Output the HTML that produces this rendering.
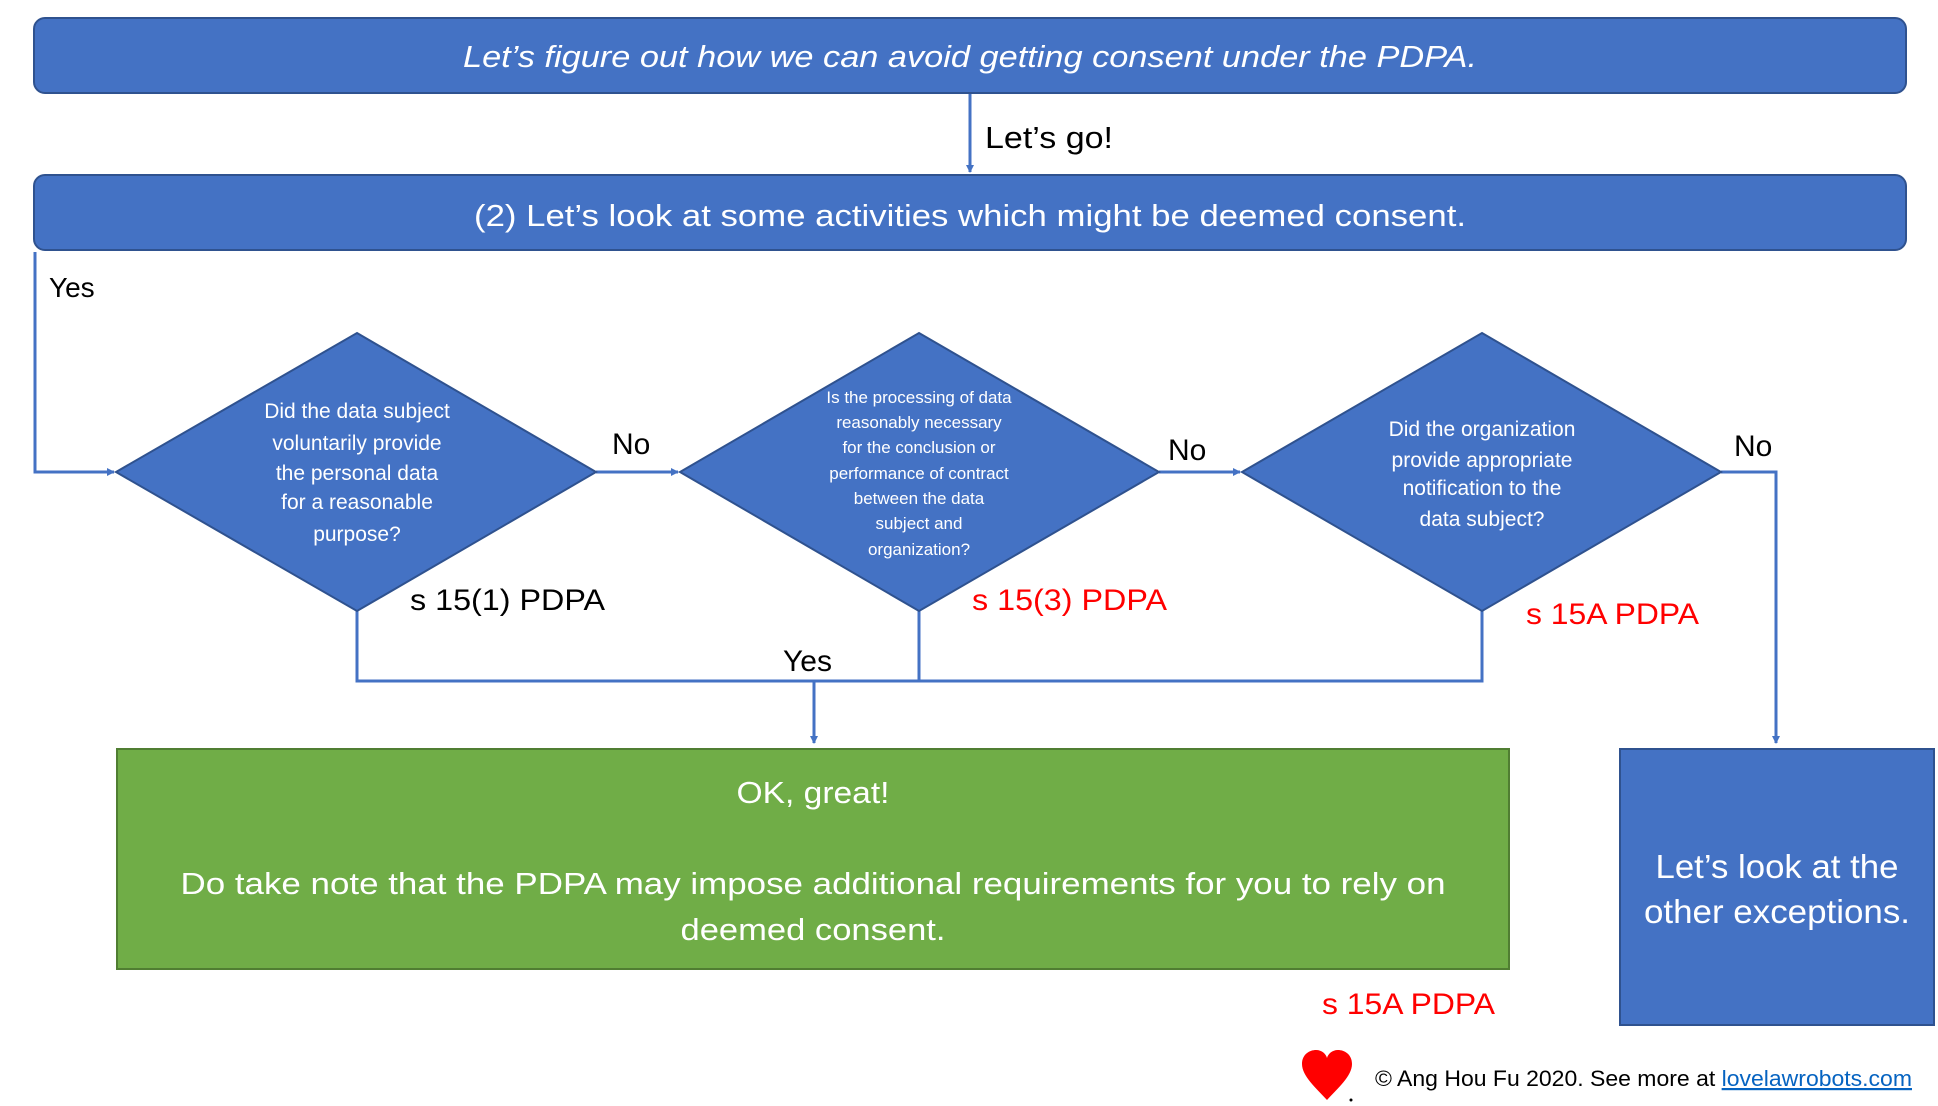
<!DOCTYPE html>
<html><head><meta charset="utf-8"><style>
html,body{margin:0;padding:0;background:#fff;}
svg{display:block;font-family:"Liberation Sans",sans-serif;}
</style></head><body>
<svg width="1938" height="1106" viewBox="0 0 1938 1106" xmlns="http://www.w3.org/2000/svg">
<defs>
<marker id="a" markerWidth="8" markerHeight="8" refX="7" refY="4" orient="auto" markerUnits="userSpaceOnUse"><path d="M0,0 L8,4 L0,8 z" fill="#4472C4"/></marker>
</defs>
<g stroke="#4472C4" stroke-width="3" fill="none">
<line x1="970" y1="93" x2="970" y2="172" marker-end="url(#a)"/>
<polyline points="35,252 35,472 114,472" marker-end="url(#a)"/>
<line x1="596" y1="472" x2="678" y2="472" marker-end="url(#a)"/>
<line x1="1159" y1="472" x2="1240" y2="472" marker-end="url(#a)"/>
<polyline points="1721,472 1776,472 1776,743" marker-end="url(#a)"/>
<polyline points="357,611 357,681 1482,681 1482,611"/>
<line x1="919" y1="611" x2="919" y2="681"/>
<line x1="814" y1="681" x2="814" y2="743" marker-end="url(#a)"/>
</g>
<rect x="34" y="18" width="1872" height="75" rx="11" fill="#4472C4" stroke="#2F528F" stroke-width="2"/>
<text x="970" y="67" fill="#fff" font-size="31" font-style="italic" text-anchor="middle" textLength="1014" lengthAdjust="spacingAndGlyphs">Let’s figure out how we can avoid getting consent under the PDPA.</text>
<text x="985" y="148" font-size="31" fill="#000" textLength="128" lengthAdjust="spacingAndGlyphs">Let’s go!</text>
<rect x="34" y="175" width="1872" height="75" rx="11" fill="#4472C4" stroke="#2F528F" stroke-width="2"/>
<text x="970" y="226" fill="#fff" font-size="31" text-anchor="middle" textLength="992" lengthAdjust="spacingAndGlyphs">(2) Let’s look at some activities which might be deemed consent.</text>
<text x="49" y="297" font-size="28" fill="#000">Yes</text>
<g fill="#4472C4" stroke="#2F528F" stroke-width="2">
<polygon points="357,333 596,472 357,611 116,472"/>
<polygon points="919,333 1159,472 919,611 680,472"/>
<polygon points="1482,333 1721,472 1482,611 1242,472"/>
</g>
<g fill="#fff" font-size="21" text-anchor="middle">
<text x="357" y="418">Did the data subject</text>
<text x="357" y="450">voluntarily provide</text>
<text x="357" y="480">the personal data</text>
<text x="357" y="509">for a reasonable</text>
<text x="357" y="541">purpose?</text>
</g>
<g fill="#fff" font-size="17" text-anchor="middle">
<text x="919" y="403">Is the processing of data</text>
<text x="919" y="428">reasonably necessary</text>
<text x="919" y="453">for the conclusion or</text>
<text x="919" y="479">performance of contract</text>
<text x="919" y="504">between the data</text>
<text x="919" y="529">subject and</text>
<text x="919" y="555">organization?</text>
</g>
<g fill="#fff" font-size="21" text-anchor="middle">
<text x="1482" y="436">Did the organization</text>
<text x="1482" y="467">provide appropriate</text>
<text x="1482" y="495">notification to the</text>
<text x="1482" y="526">data subject?</text>
</g>
<g font-size="30">
<text x="612" y="454" fill="#000">No</text>
<text x="1168" y="460" fill="#000">No</text>
<text x="1734" y="456" fill="#000">No</text>
<text x="410" y="610" fill="#000" textLength="195" lengthAdjust="spacingAndGlyphs">s 15(1) PDPA</text>
<text x="972" y="610" fill="#f00" textLength="195" lengthAdjust="spacingAndGlyphs">s 15(3) PDPA</text>
<text x="1526" y="624" fill="#f00" textLength="173" lengthAdjust="spacingAndGlyphs">s 15A PDPA</text>
<text x="783" y="671" fill="#000">Yes</text>
<text x="1322" y="1014" fill="#f00" textLength="173" lengthAdjust="spacingAndGlyphs">s 15A PDPA</text>
</g>
<rect x="117" y="749" width="1392" height="220" fill="#70AD47" stroke="#507E32" stroke-width="2"/>
<g fill="#fff" font-size="31" text-anchor="middle">
<text x="813" y="803" textLength="153" lengthAdjust="spacingAndGlyphs">OK, great!</text>
<text x="813" y="894" textLength="1265" lengthAdjust="spacingAndGlyphs">Do take note that the PDPA may impose additional requirements for you to rely on</text>
<text x="813" y="940" textLength="265" lengthAdjust="spacingAndGlyphs">deemed consent.</text>
</g>
<rect x="1620" y="749" width="314" height="276" fill="#4472C4" stroke="#2F528F" stroke-width="2"/>
<g fill="#fff" font-size="33" text-anchor="middle">
<text x="1777" y="878" textLength="243" lengthAdjust="spacingAndGlyphs">Let’s look at the</text>
<text x="1777" y="923" textLength="266" lengthAdjust="spacingAndGlyphs">other exceptions.</text>
</g>
<path d="M1327,1100 C1316,1088 1302,1076 1302,1064 C1302,1054 1310,1050 1316,1050 C1322,1050 1326,1054 1327,1058 C1328,1054 1332,1050 1338,1050 C1344,1050 1352,1054 1352,1064 C1352,1076 1338,1088 1327,1100 z" fill="#f00"/>
<circle cx="1351" cy="1100" r="1.5" fill="#000"/>
<text x="1375" y="1086" font-size="22" fill="#000" textLength="537" lengthAdjust="spacingAndGlyphs">© Ang Hou Fu 2020. See more at <tspan fill="#0563C1" text-decoration="underline">lovelawrobots.com</tspan></text>
</svg>
</body></html>
